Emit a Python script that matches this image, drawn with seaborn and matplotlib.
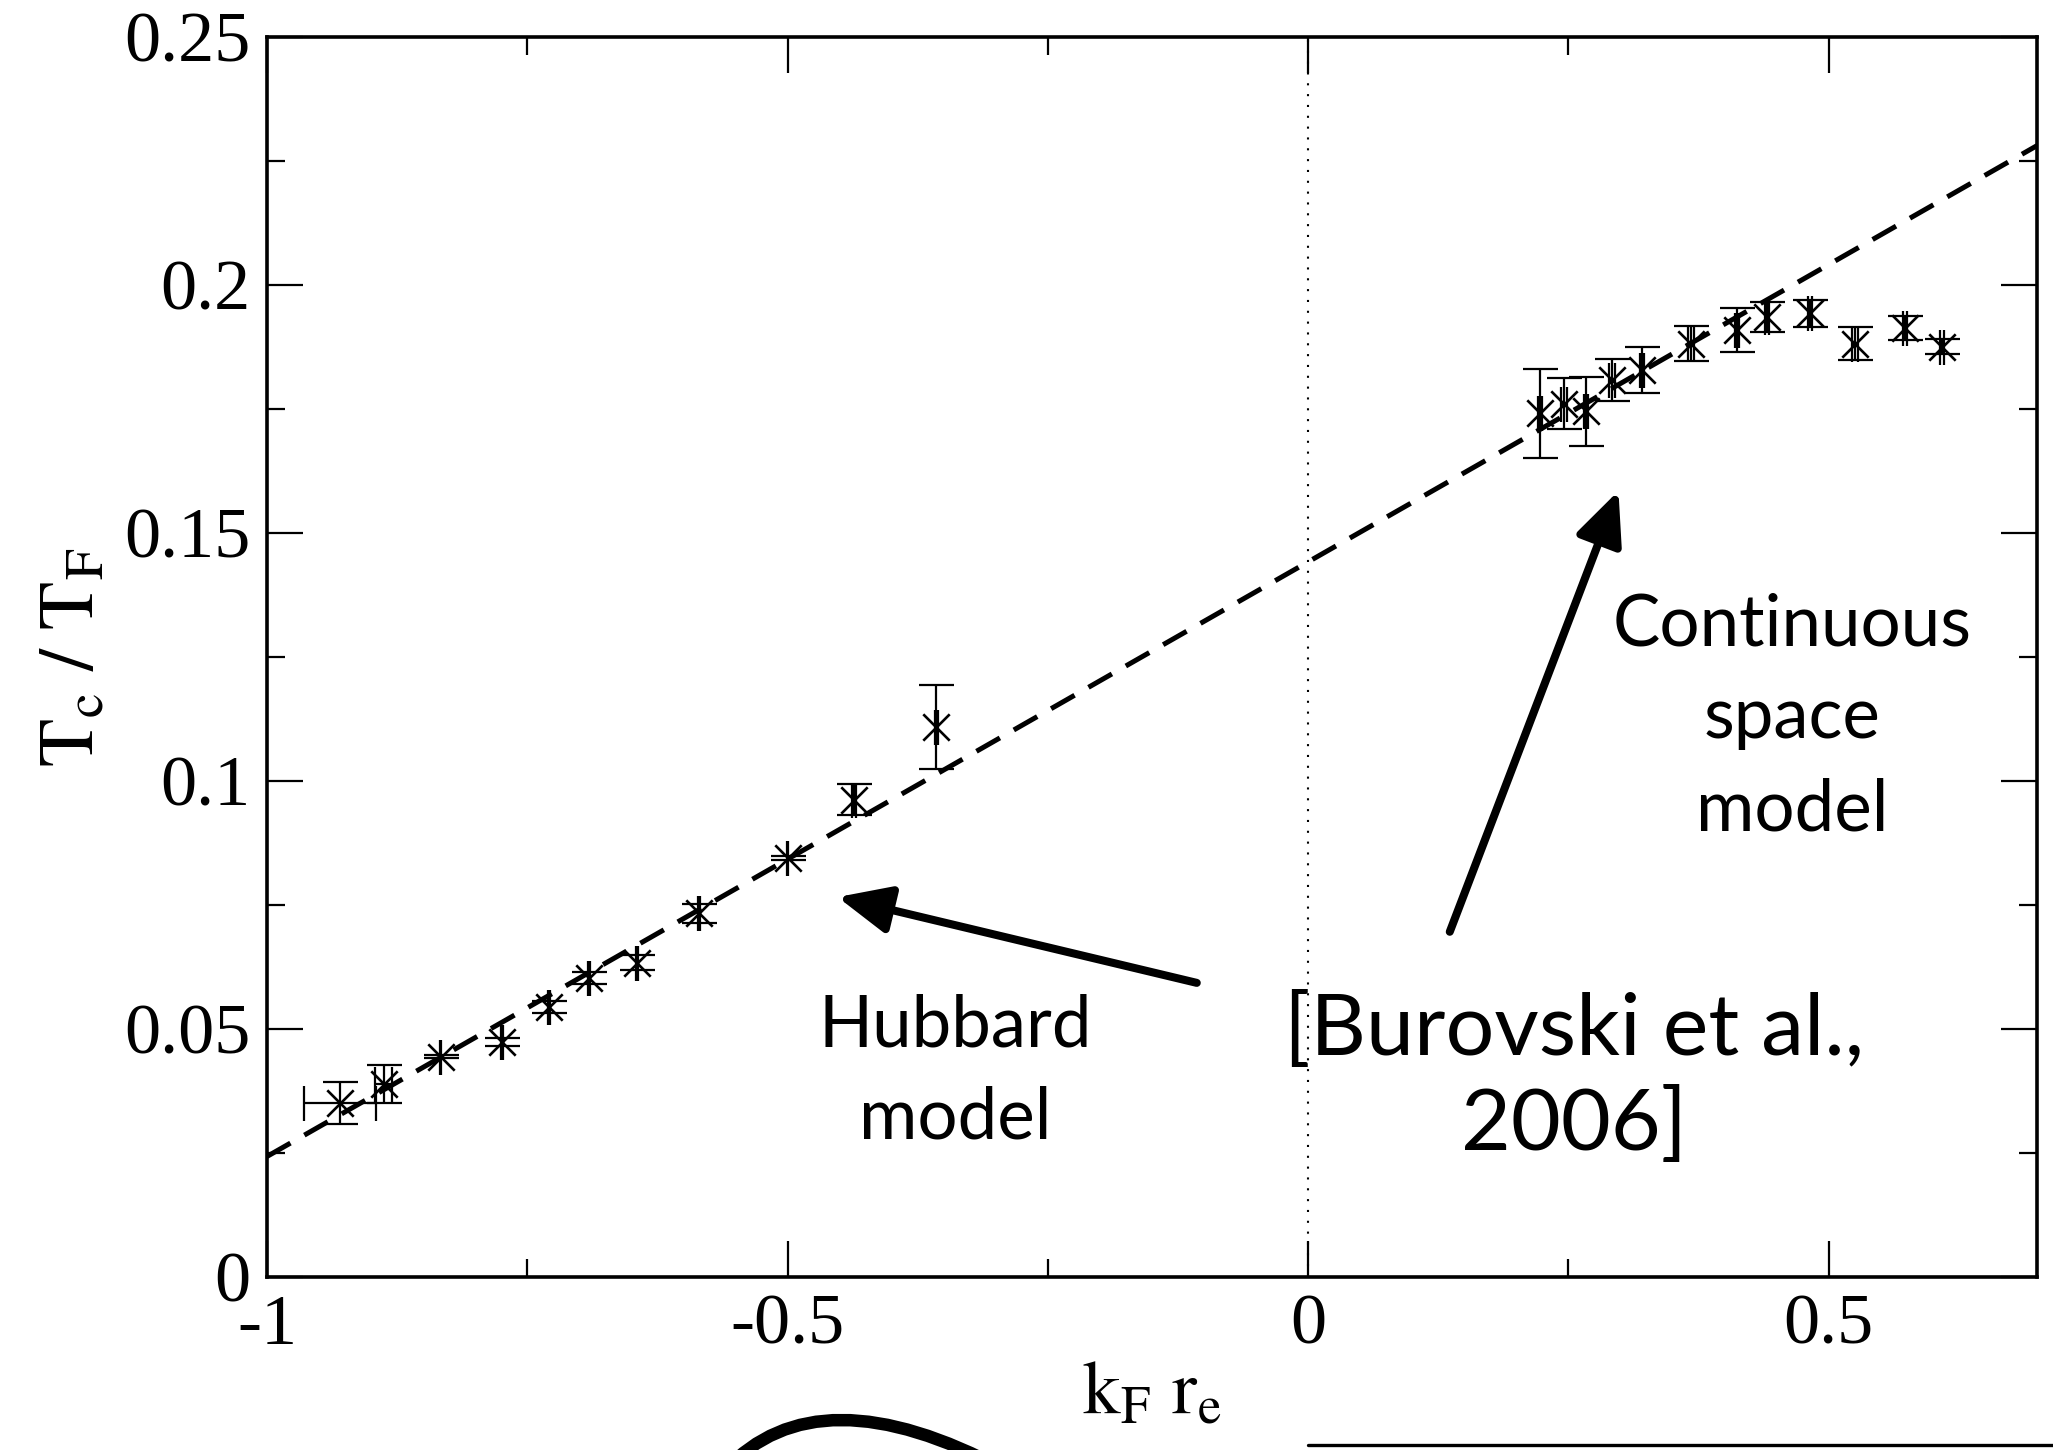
import numpy as np
import pandas as pd
import matplotlib
matplotlib.use("Agg")
import matplotlib.pyplot as plt
import seaborn as sns
from matplotlib.path import Path
from matplotlib.patches import PathPatch
from matplotlib.lines import Line2D
from matplotlib.ticker import MultipleLocator

# Tc/TF vs kF re
hub_x = [-0.930, -0.888, -0.833, -0.774, -0.729, -0.691, -0.645, -0.585, -0.500, -0.436, -0.357]
hub_y = [0.0351, 0.0389, 0.0444, 0.0474, 0.0545, 0.0603, 0.0634, 0.0733, 0.0844, 0.0962, 0.1109]
hub_yerr = [0.0042, 0.0039, 0.0003, 0.0008, 0.0012, 0.0012, 0.0015, 0.0020, 0.0004, 0.0031, 0.0085]
hub_xerr = [0.0344, 0.0080, 0.0005, 0.0010, 0.0010, 0.0010, 0.0010, 0.0010, 0.0005, 0.0020, 0.0010]

cont_x = [0.223, 0.246, 0.267, 0.292, 0.321, 0.368, 0.412, 0.441, 0.482, 0.525, 0.573, 0.609]
cont_y = [0.1741, 0.1761, 0.1745, 0.1808, 0.1829, 0.1882, 0.1909, 0.1936, 0.1943, 0.1882, 0.1913, 0.1876]
cont_yerr = [0.0089, 0.0052, 0.0069, 0.0042, 0.0047, 0.0035, 0.0044, 0.0030, 0.0027, 0.0034, 0.0024, 0.0016]
cont_xerr = [0.002, 0.003, 0.002, 0.003, 0.002, 0.003, 0.002, 0.002, 0.002, 0.003, 0.002, 0.002]

fit_x = [-1.0, 0.7]
fit_y = [0.0243, 0.2281]

xticks = [-1, -0.5, 0, 0.5]
xtick_labels = ["-1", "-0.5", "0", "0.5"]
yticks = [0, 0.05, 0.1, 0.15, 0.2, 0.25]
ytick_labels = ["0", "0.05", "0.1", "0.15", "0.2", "0.25"]

df = pd.DataFrame({
    "x": hub_x + cont_x,
    "y": hub_y + cont_y,
    "xerr": hub_xerr + cont_xerr,
    "yerr": hub_yerr + cont_yerr,
})

sns.set_style("ticks")
plt.rcParams["font.family"] = ["Liberation Serif", "DejaVu Serif"]
plt.rcParams["mathtext.fontset"] = "stix"
for k in ["text.color", "axes.labelcolor", "xtick.color", "ytick.color", "axes.edgecolor"]:
    plt.rcParams[k] = "black"

W, H = 2053, 1450
fig = plt.figure(figsize=(W / 100, H / 100), dpi=100)
ax = fig.add_axes([267 / W, 1 - 1277 / H, (2037 - 267) / W, (1277 - 37) / H])

# dotted line at zero
ax.axvline(0, color="black", lw=1.5, linestyle=(0, (1, 4.2)), zorder=1)

# linear fit
sns.lineplot(x=fit_x, y=fit_y, ax=ax, color="black", lw=3.6,
             linestyle=(0, (5.4, 3.2)), zorder=2)

ax.errorbar(df["x"], df["y"], yerr=df["yerr"], xerr=df["xerr"], fmt="none",
            ecolor="black", elinewidth=1.6, capsize=12.6, capthick=1.6, zorder=3)
sns.scatterplot(data=df, x="x", y="y", ax=ax, marker="x", s=361, color="black",
                linewidth=1.9, zorder=4)

ax.set_xlim(-1, 0.7)
ax.set_ylim(0, 0.25)
ax.set_xticks(xticks)
ax.set_xticklabels(xtick_labels)
ax.set_yticks(yticks)
ax.set_yticklabels(ytick_labels)
ax.xaxis.set_minor_locator(MultipleLocator(0.25))
ax.yaxis.set_minor_locator(MultipleLocator(0.025))
ax.tick_params(which="both", direction="in", top=True, right=True, width=1.6,
               labelsize=52, color="black", labelcolor="black")
ax.tick_params(which="major", length=26, pad=12)
ax.tick_params(which="minor", length=13)
for s in ax.spines.values():
    s.set_linewidth(2.6)
    s.set_color("black")

ax.set_xlabel(r"$\mathrm{k_F\ r_e}$", fontsize=54, labelpad=2)
ax.set_ylabel(r"$\mathrm{T_c\ /\ T_F}$", fontsize=57, labelpad=10)

# annotations
sans = ["Lato", "DejaVu Sans"]
ax.text(-0.339, 0.0413, "Hubbard\nmodel", family=sans, fontsize=51,
        ha="center", va="center", linespacing=1.52)
ax.text(0.465, 0.1128, "Continuous\nspace\nmodel", family=sans, fontsize=51,
        ha="center", va="center", linespacing=1.52)
ax.text(0.255, 0.0400, "[Burovski et al.,\n2006]", family=sans, fontsize=62,
        ha="center", va="center", linespacing=1.27)

arrow = dict(arrowstyle="-|>,head_length=0.4,head_width=0.18", lw=5.8,
             color="black", mutation_scale=80, shrinkA=0, shrinkB=0)
ax.annotate("", xy=(-0.452, 0.0766), xytext=(-0.107, 0.0593), arrowprops=arrow)
ax.annotate("", xy=(0.298, 0.1585), xytext=(0.136, 0.0696), arrowprops=arrow)

# fragments of the next slide cut off at the bottom edge
def fpt(px, py):
    return (px / W, 1 - py / H)

curve = Path([fpt(725, 1470), fpt(818, 1370), fpt(1005, 1470)],
             [Path.MOVETO, Path.CURVE3, Path.CURVE3])
fig.add_artist(PathPatch(curve, fill=False, lw=9, edgecolor="black",
                         transform=fig.transFigure))
fig.add_artist(Line2D([1308 / W, 1.0], [1 - 1445 / H, 1 - 1445 / H], lw=2.4,
                      color="black", transform=fig.transFigure))

fig.savefig("out.png", dpi=100)
